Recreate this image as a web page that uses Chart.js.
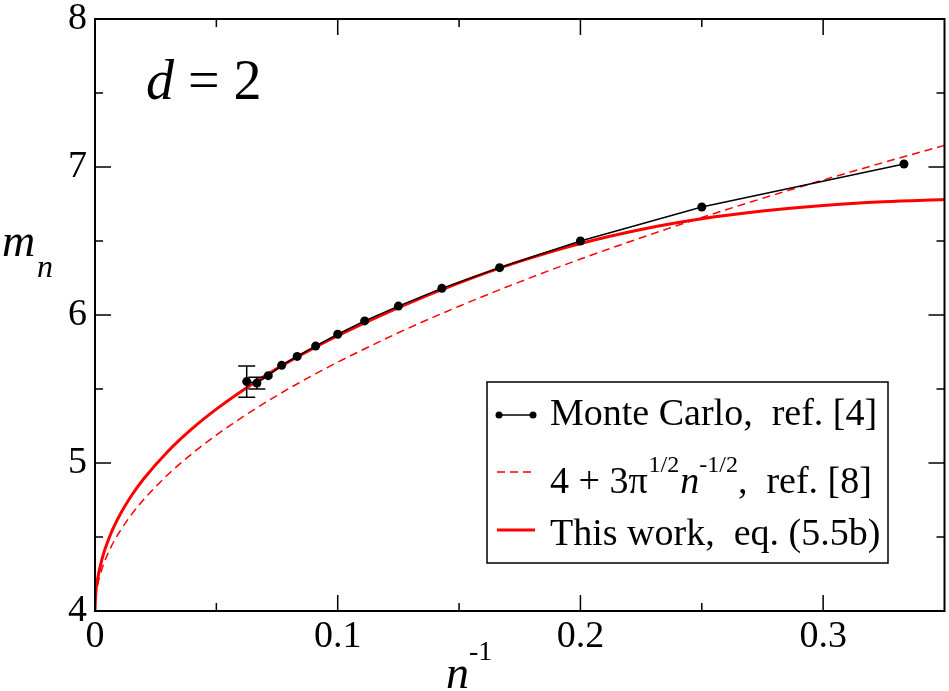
<!DOCTYPE html>
<html>
<head>
<meta charset="utf-8">
<script src="https://cdn.jsdelivr.net/npm/chart.js@4.4.1/dist/chart.umd.min.js"></script>
<style>
html,body{margin:0;padding:0;background:#fff;}
#wrap{width:949px;height:691px;}
</style>
</head>
<body>
<div id="wrap"><canvas id="c" width="949" height="691"></canvas></div>
<script>
// ---- data ----
const mcX = [0.3333, 0.25, 0.2, 0.1667, 0.1429, 0.125, 0.1111, 0.1, 0.0909, 0.0833, 0.0769, 0.0714, 0.0667, 0.0625];
const mcY = [7.02, 6.73, 6.50, 6.32, 6.18, 6.06, 5.96, 5.87, 5.79, 5.72, 5.66, 5.59, 5.54, 5.55];
const mcErr = [0, 0, 0, 0, 0, 0, 0, 0, 0, 0, 0, 0, 0.04, 0.105];

const curveX = [0, 0.0003, 0.001, 0.003, 0.006, 0.01, 0.015, 0.02, 0.03, 0.04, 0.05, 0.0625, 0.075, 0.0875, 0.1, 0.125, 0.15, 0.175, 0.2, 0.225, 0.25, 0.275, 0.3, 0.325, 0.35];
const dashY = [4.0, 4.092, 4.168, 4.291, 4.412, 4.532, 4.651, 4.752, 4.921, 5.063, 5.189, 5.329, 5.456, 5.573, 5.681, 5.880, 6.059, 6.224, 6.378, 6.522, 6.659, 6.788, 6.912, 7.031, 7.146];
const thisY = [4.0, 4.115, 4.209, 4.358, 4.502, 4.642, 4.779, 4.892, 5.078, 5.232, 5.364, 5.509, 5.638, 5.754, 5.860, 6.050, 6.217, 6.362, 6.483, 6.578, 6.650, 6.702, 6.740, 6.765, 6.780];

const xTicks = [0, 0.1, 0.2, 0.3];
const xMinor = [0.05, 0.15, 0.25];
const yTicks = [4, 5, 6, 7, 8];
const yMinor = [4.5, 5.5, 6.5, 7.5];

const legendLabels = ["Monte Carlo,  ref. [4]", "4 + 3\u03c0", "This work,  eq. (5.5b)"];

const SERIF = '"Liberation Serif", "DejaVu Serif", serif';
const pts = (xs, ys) => xs.map((v, i) => ({x: v, y: ys[i]}));

const decor = {
  id: 'decor',
  afterDatasetsDraw(chart) {
    const {ctx, chartArea: a, scales: {x, y}} = chart;
    ctx.save();
    // error bars
    ctx.strokeStyle = '#000';
    ctx.lineWidth = 1.5;
    mcX.forEach((v, i) => {
      const e = mcErr[i];
      if (!e) return;
      const px = x.getPixelForValue(v);
      const t = y.getPixelForValue(mcY[i] + e), b = y.getPixelForValue(mcY[i] - e);
      ctx.beginPath();
      ctx.moveTo(px, t); ctx.lineTo(px, b);
      ctx.moveTo(px - 8.5, t); ctx.lineTo(px + 8.5, t);
      ctx.moveTo(px - 8.5, b); ctx.lineTo(px + 8.5, b);
      ctx.stroke();
    });
    // frame
    ctx.lineWidth = 2;
    ctx.strokeRect(a.left, a.top, a.right - a.left, a.bottom - a.top);
    // ticks
    ctx.lineWidth = 1.5;
    ctx.beginPath();
    const major = 16, minor = 8;
    xTicks.forEach(v => { const p = x.getPixelForValue(v); ctx.moveTo(p, a.bottom); ctx.lineTo(p, a.bottom - major); ctx.moveTo(p, a.top); ctx.lineTo(p, a.top + major); });
    xMinor.forEach(v => { const p = x.getPixelForValue(v); ctx.moveTo(p, a.bottom); ctx.lineTo(p, a.bottom - minor); ctx.moveTo(p, a.top); ctx.lineTo(p, a.top + minor); });
    yTicks.forEach(v => { const p = y.getPixelForValue(v); ctx.moveTo(a.left, p); ctx.lineTo(a.left + major, p); ctx.moveTo(a.right, p); ctx.lineTo(a.right - major, p); });
    yMinor.forEach(v => { const p = y.getPixelForValue(v); ctx.moveTo(a.left, p); ctx.lineTo(a.left + minor, p); ctx.moveTo(a.right, p); ctx.lineTo(a.right - minor, p); });
    ctx.stroke();

    // legend box
    const L = 487, T = 382, R = 888, B = 563;
    ctx.fillStyle = '#fff';
    ctx.fillRect(L, T, R - L, B - T);
    ctx.strokeStyle = '#000';
    ctx.lineWidth = 1.5;
    ctx.strokeRect(L, T, R - L, B - T);
    // sample 1
    ctx.lineWidth = 1.5;
    ctx.beginPath(); ctx.moveTo(499, 415); ctx.lineTo(533, 415); ctx.stroke();
    ctx.fillStyle = '#000';
    [499, 533].forEach(cx => { ctx.beginPath(); ctx.arc(cx, 415, 3.5, 0, Math.PI * 2); ctx.fill(); });
    // sample 2
    ctx.strokeStyle = '#ff0000';
    ctx.setLineDash([8, 5]);
    ctx.beginPath(); ctx.moveTo(497, 472); ctx.lineTo(535, 472); ctx.stroke();
    ctx.setLineDash([]);
    // sample 3
    ctx.lineWidth = 3;
    ctx.beginPath(); ctx.moveTo(497, 530); ctx.lineTo(535, 530); ctx.stroke();

    ctx.fillStyle = '#000';
    ctx.textBaseline = 'alphabetic';
    ctx.textAlign = 'left';
    const big = '38px ' + SERIF, bigI = 'italic 38px ' + SERIF, sup = '24px ' + SERIF;
    ctx.font = big;
    ctx.fillText(legendLabels[0], 550, 425);
    let cx = 550;
    ctx.fillText(legendLabels[1], cx, 493); cx += ctx.measureText(legendLabels[1]).width + 1;
    ctx.font = sup; ctx.fillText('1/2', cx, 472); cx += ctx.measureText('1/2').width + 1;
    ctx.font = bigI; ctx.fillText('n', cx, 493); cx += ctx.measureText('n').width;
    ctx.font = sup; ctx.fillText('-1/2', cx, 472); cx += ctx.measureText('-1/2').width;
    ctx.font = big; ctx.fillText(',  ref. [8]', cx, 493);
    ctx.fillText(legendLabels[2], 550, 545);

    // annotation d = 2
    ctx.font = 'italic 56px ' + SERIF;
    ctx.fillText('d', 146, 99);
    const dw = ctx.measureText('d').width;
    ctx.font = '56px ' + SERIF;
    ctx.fillText(' = 2', 146 + dw, 99);

    // y-axis title m_n
    ctx.font = 'italic 46px ' + SERIF;
    ctx.fillText('m', 2, 256);
    ctx.font = 'italic 32px ' + SERIF;
    ctx.fillText('n', 37, 277);

    // x-axis title n^-1
    ctx.font = 'italic 46px ' + SERIF;
    ctx.fillText('n', 446, 688);
    ctx.font = '28px ' + SERIF;
    ctx.fillText('-1', 469, 660);
    ctx.restore();
  }
};

new Chart(document.getElementById('c'), {
  type: 'scatter',
  data: {
    datasets: [
      {
        label: 'Monte Carlo',
        data: pts(mcX, mcY),
        showLine: true,
        borderColor: '#000',
        borderWidth: 1.5,
        pointRadius: 4.5,
        pointBackgroundColor: '#000',
        pointBorderWidth: 0,
      },
      {
        label: 'This work',
        data: pts(curveX, thisY),
        showLine: true,
        borderColor: '#ff0000',
        borderWidth: 3,
        pointRadius: 0,
        cubicInterpolationMode: 'monotone',
      },
      {
        label: 'ref 8',
        data: pts(curveX, dashY),
        showLine: true,
        borderColor: '#ff0000',
        borderWidth: 1.5,
        borderDash: [8, 5],
        pointRadius: 0,
        cubicInterpolationMode: 'monotone',
      }
    ]
  },
  options: {
    responsive: false,
    animation: false,
    layout: {padding: {left: 0, top: 19, right: 3, bottom: 0}},
    plugins: {legend: {display: false}, tooltip: {enabled: false}},
    scales: {
      x: {
        type: 'linear', min: 0, max: 0.35,
        grid: {display: false, drawTicks: false},
        border: {display: false},
        afterBuildTicks: s => { s.ticks = xTicks.map(v => ({value: v})); },
        afterFit: s => { s.height = 80; s.paddingLeft = 0; s.paddingRight = 0; },
        ticks: {
          padding: 3, color: '#000', maxRotation: 0, autoSkip: false,
          font: {family: SERIF, size: 38},
          callback: v => String(v)
        }
      },
      y: {
        type: 'linear', min: 4, max: 8,
        grid: {display: false, drawTicks: false},
        border: {display: false},
        afterBuildTicks: s => { s.ticks = yTicks.map(v => ({value: v})); },
        afterFit: s => { s.width = 95; s.paddingTop = 0; s.paddingBottom = 0; },
        ticks: {
          padding: 8, color: '#000', autoSkip: false,
          font: {family: SERIF, size: 38},
          callback: v => String(v)
        }
      }
    }
  },
  plugins: [decor]
});
</script>
</body>
</html>
